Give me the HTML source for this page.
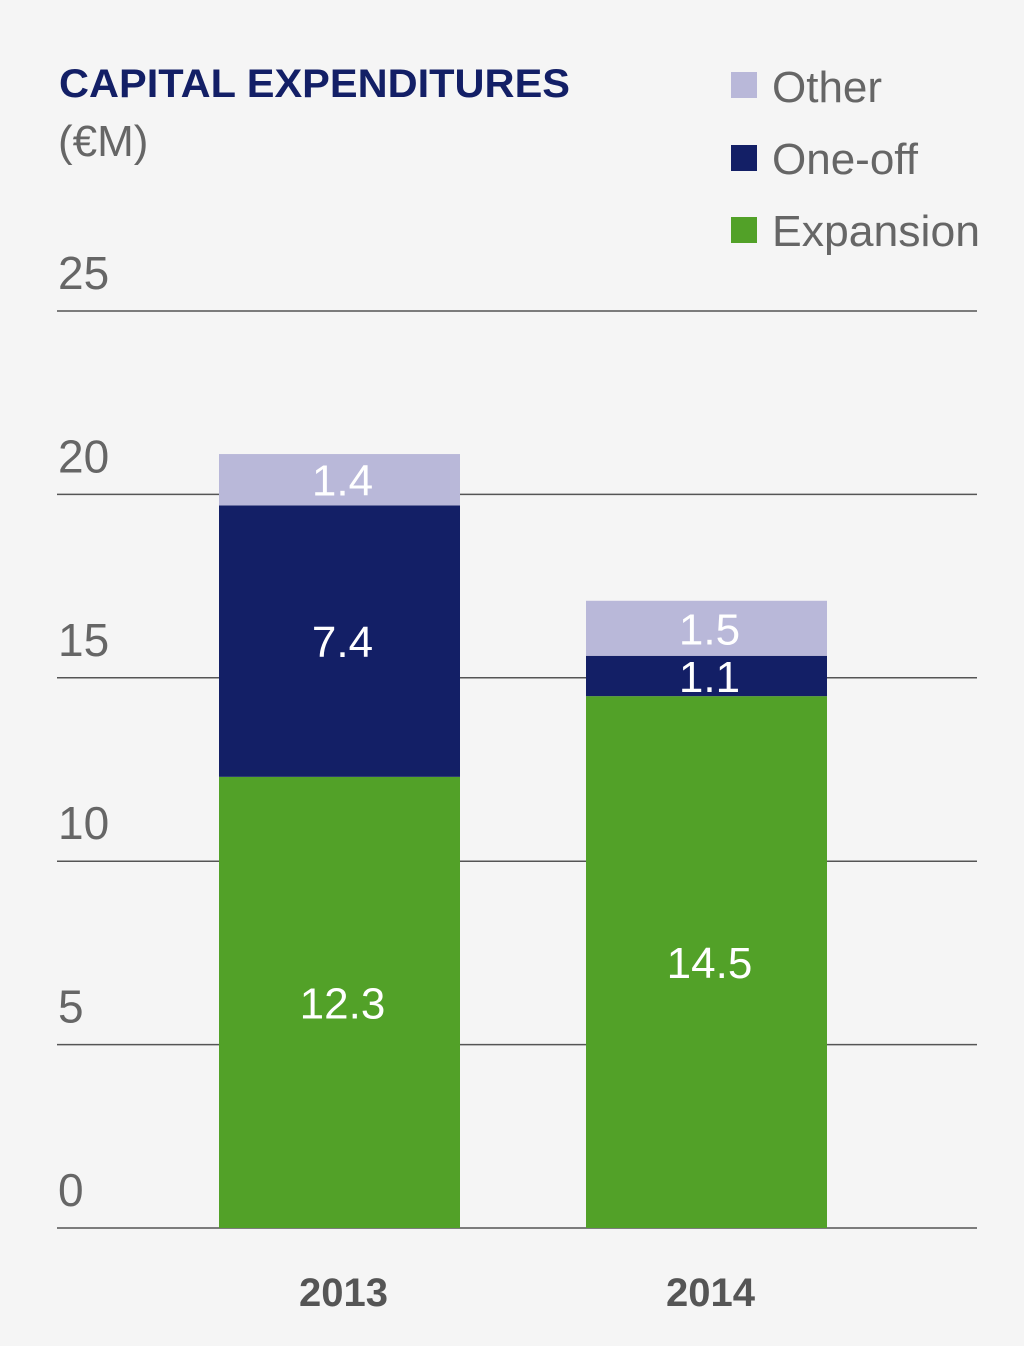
<!DOCTYPE html>
<html><head><meta charset="utf-8"><style>
body{margin:0;background:#f5f5f5;}
svg{display:block;font-family:"Liberation Sans",sans-serif;}
</style></head><body>
<svg width="1024" height="1346" viewBox="0 0 1024 1346">
<rect width="1024" height="1346" fill="#f5f5f5"/>
<text x="59" y="97" font-size="40" font-weight="bold" fill="#131f66" textLength="511" lengthAdjust="spacingAndGlyphs">CAPITAL EXPENDITURES</text>
<text x="58" y="156" font-size="44" fill="#666">(€M)</text>
<g>
<rect x="731" y="72" width="26" height="26" fill="#b9b8d9"/>
<text x="772" y="102" font-size="44" fill="#666">Other</text>
<rect x="731" y="145" width="26" height="26" fill="#131f66"/>
<text x="772" y="174" font-size="44" fill="#666">One-off</text>
<rect x="731" y="217" width="26" height="26" fill="#52a128"/>
<text x="772" y="246" font-size="44" fill="#666" textLength="208" lengthAdjust="spacingAndGlyphs">Expansion</text>
</g>
<g id="grid"></g>
<g id="bars"></g>
</svg>
<script>
const categories=["2013","2014"];
const expansion=[12.3,14.5];
const oneOff=[7.4,1.1];
const other=[1.4,1.5];
const ticks=[0,5,10,15,20,25];
const NS="http://www.w3.org/2000/svg";
const y0=1228,y25=311,yMax=25;
const y=v=>y0-(y0-y25)*v/yMax;
const barX=[219,586],barW=241;
const grid=document.getElementById('grid'),bars=document.getElementById('bars');
function mk(tag,attrs,parent){const e=document.createElementNS(NS,tag);for(const k in attrs)e.setAttribute(k,attrs[k]);parent.appendChild(e);return e;}
ticks.forEach(t=>{
 const l=mk('line',{x1:57,x2:977,y1:y(t),y2:y(t),stroke:'#555','stroke-width':1.5},grid);
 
 
 const tx=mk('text',{x:58,y:y(t)-22,'font-size':46,fill:'#666'},grid);
 tx.textContent=t;
 
 
});
const series=[["expansion",expansion,"#52a128"],["one-off",oneOff,"#131f66"],["other",other,"#b9b8d9"]];
categories.forEach((c,i)=>{
 let base=0;
 series.forEach(([name,arr,col])=>{
  const v=arr[i],top=base+v;
  const r=mk('rect',{x:barX[i],y:y(top),width:barW,height:y(base)-y(top),fill:col},bars);
  
  
  const cy=(y(base)+y(top))/2;
  const t=mk('text',{x:barX[i]+barW/2+3,y:cy+16,'font-size':44,fill:'#fff','text-anchor':'middle'},bars);
  t.textContent=v.toFixed(1);
  
  
  base=top;
 });
 const yl=mk('text',{x:barX[i]+barW/2+4,y:1306,'font-size':40,'font-weight':'bold',fill:'#555','text-anchor':'middle'},bars);
 yl.textContent=c;
 
 
});
</script>
</body></html>
